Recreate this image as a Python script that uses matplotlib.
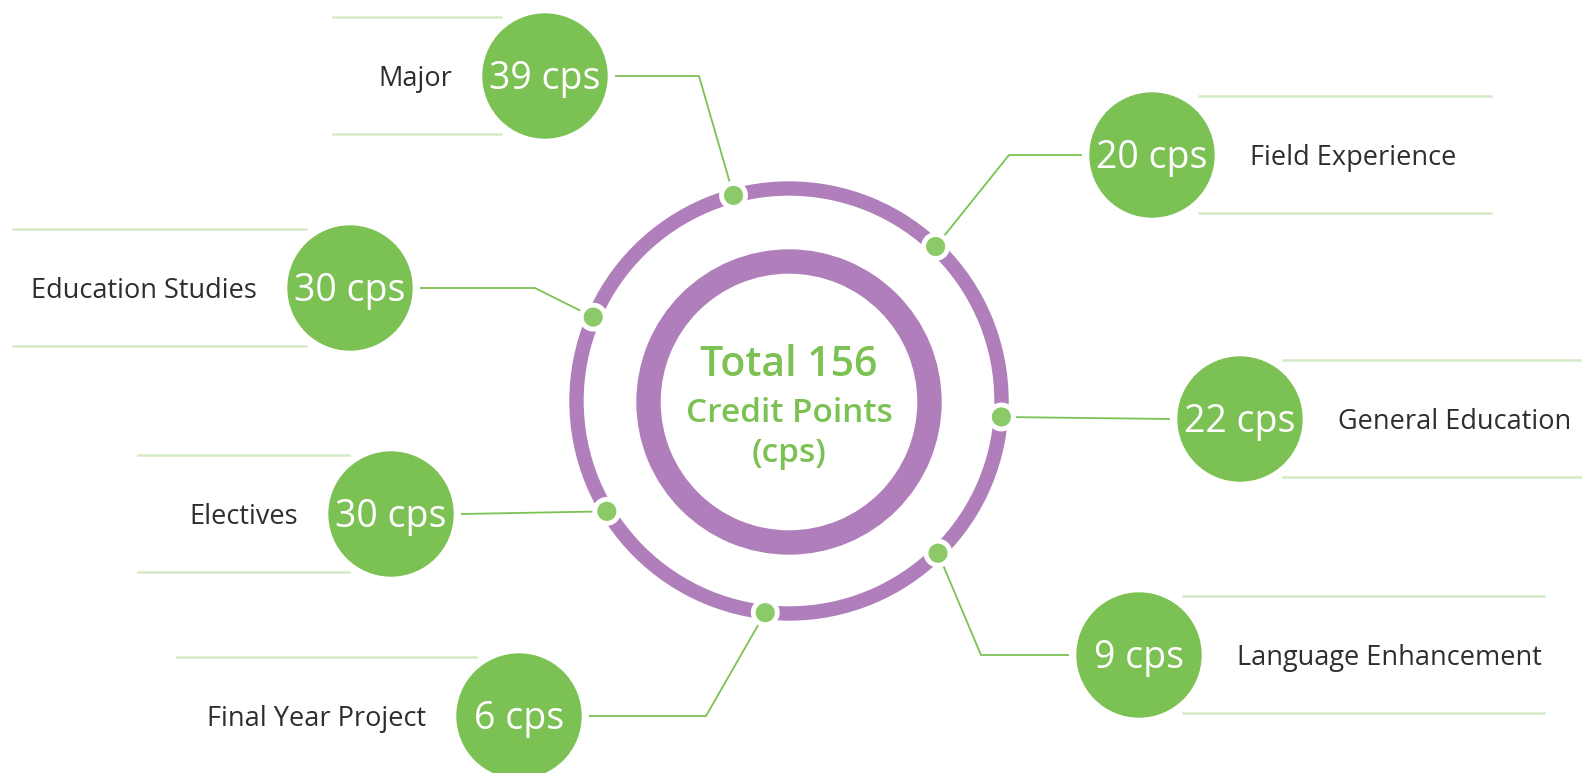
import numpy as np
import matplotlib
matplotlib.use("Agg")
import matplotlib.pyplot as plt
from matplotlib.patches import Circle, Annulus

# ---- data ----
categories = ["Major", "Field Experience", "Education Studies", "General Education",
              "Electives", "Language Enhancement", "Final Year Project"]
credits = [39, 20, 30, 22, 30, 9, 6]
total_credits = 156
center_lines = [f"Total {total_credits}", "Credit Points", "(cps)"]

# ---- layout (pixel coordinates, y downwards) ----
W, H = 1582, 773
cx, cy = 789, 401
badge_xy = [(545, 76), (1152, 155), (350, 288), (1240, 419), (391, 514), (1139, 655), (519, 716)]
side = ["L", "R", "L", "R", "L", "R", "L"]
dot_angle = [105.1, 46.5, 156.8, -4.3, 211.2, -45.6, 263.6]
elbow_x = [699, 1009, 535, None, None, 981, 706]
rule_x = [(333, 501), (1199, 1491), (13, 306), (1283, 1582), (138, 349), (1183, 1544), (177, 476)]

GREEN = "#7cc153"
DOT = "#8cc968"
PURPLE = "#b07fbb"
RULE = "#d5eac9"
TXT = "#2e2e2e"
BR = 62
DOT_R = 213
FONT = "Open Sans"

fig = plt.figure(figsize=(W / 100, H / 100), dpi=100)
ax = fig.add_axes([0, 0, 1, 1])
ax.set_xlim(0, W)
ax.set_ylim(H, 0)
ax.set_aspect("equal")
ax.axis("off")

# rings
ax.add_patch(Annulus((cx, cy), 219, 13, color=PURPLE, zorder=2))
ax.add_patch(Annulus((cx, cy + 1), 152, 23, color=PURPLE, zorder=2))

for i, (cat, val) in enumerate(zip(categories, credits)):
    bx, by = badge_xy[i]
    a = np.deg2rad(dot_angle[i])
    dx, dy = cx + DOT_R * np.cos(a), cy - DOT_R * np.sin(a)
    sgn = 1 if side[i] == "L" else -1
    sx = bx + sgn * (BR + 8)
    if elbow_x[i] is None:
        xs, ys = [sx, dx], [by, dy]
    else:
        xs, ys = [sx, elbow_x[i], dx], [by, by, dy]
    ax.plot(xs, ys, color=GREEN, lw=1.3, zorder=1, solid_capstyle="butt")
    # dot on ring with white gap
    ax.add_patch(Circle((dx, dy), 12, facecolor=DOT, edgecolor="white", lw=3.5, zorder=4))
    # rules
    x0, x1 = rule_x[i]
    for yy in (by - 59, by + 58):
        ax.plot([x0, x1], [yy, yy], color=RULE, lw=1.8, zorder=0)
    # badge
    ax.add_patch(Circle((bx, by), BR, color=GREEN, zorder=3))
    ax.text(bx, by + 3, f"{val} cps", color="white", fontsize=27, family=FONT,
            ha="center", va="center", zorder=5)
    # label
    if side[i] == "L":
        ax.text(bx - BR - 31, by + 3, cat, color=TXT, fontsize=19.5, family=FONT,
                ha="right", va="center", zorder=5)
    else:
        ax.text(bx + BR + 36, by + 3, cat, color=TXT, fontsize=19.5, family=FONT,
                ha="left", va="center", zorder=5)

# center text
ax.text(cx, 365, center_lines[0], color=GREEN, fontsize=29.5, family=FONT,
        weight="semibold", ha="center", va="center")
ax.text(cx, 414, center_lines[1], color=GREEN, fontsize=24, family=FONT,
        weight="semibold", ha="center", va="center")
ax.text(cx, 454, center_lines[2], color=GREEN, fontsize=24, family=FONT,
        weight="semibold", ha="center", va="center")

fig.savefig("out.png", dpi=100, facecolor="white")
